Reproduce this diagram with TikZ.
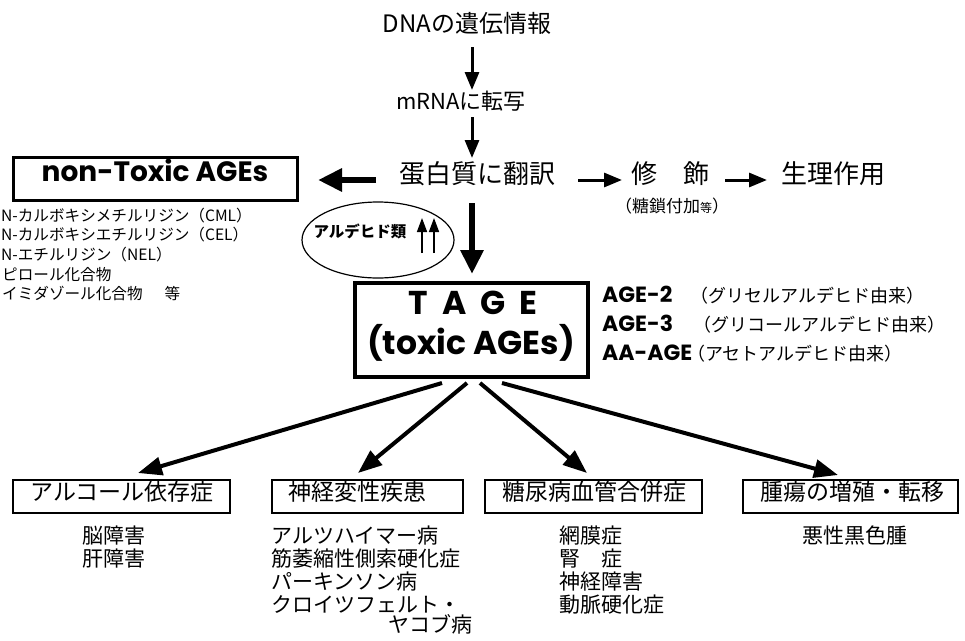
\documentclass[tikz,border=0pt]{standalone}
\usepackage{fontspec}
\setmainfont{Noto Sans CJK JP}
\newfontfamily\geo{Poppins}
\usetikzlibrary{arrows.meta,shapes.geometric}
\tikzset{
  fsz/.style={font=\fontsize{#1}{#1}\selectfont},
  txt/.style={inner sep=0pt, text height=0.88em, text depth=0.12em},
  lbox/.style={draw, line width=2.6pt, inner sep=0pt},
  arrA/.style={line width=3pt, -{Triangle[length=18pt,width=14pt]}},
  arrB/.style={line width=6pt, -{Triangle[length=24pt,width=22pt]}},
  arrC/.style={line width=4pt, -{Triangle[length=24pt,width=18pt]}},
  arrD/.style={line width=1.6pt, -{Triangle[length=14pt,width=10pt]}},
}
\begin{document}
\begin{tikzpicture}[x=1pt,y=-1pt]
\useasboundingbox (0,0) rectangle (965,640);

% top chain
\node[txt,fsz=24] (dna) at (467,29) {DNAの遺伝情報};
\node[txt,fsz=22] (mrna) at (461,106) {mRNAに転写};
\node[txt,fsz=26] (prot) at (477,180) {蛋白質に翻訳};
\node[txt,fsz=26,anchor=west] (mod) at (631,180) {修　飾};
\node[txt,fsz=17] (modsub) at (672,209) {（糖鎖付加{\fontsize{12}{12}\selectfont 等}）};
\node[txt,fsz=26,anchor=west] (phys) at (781,180) {生理作用};

\coordinate (a1s) at (472,47);  \coordinate (a1e) at (472,90);
\coordinate (a2s) at (472,117); \coordinate (a2e) at (472,158);
\draw[arrA] (a1s) -- (a1e);
\draw[arrA] (a2s) -- (a2e);

% non-toxic box
\node[lbox,line width=3pt,minimum width=284,minimum height=43] (nontox) at (155,178.5) {};
\node[txt,fsz=28] (nontoxt) at (155,178) {\geo\bfseries non-Toxic AGEs};
\coordinate (lfs) at (376,180); \coordinate (lfe) at (318,180);
\draw[arrB] (lfs) -- (lfe);
\coordinate (r1s) at (578,180); \coordinate (r1e) at (622,180);
\coordinate (r2s) at (725,180); \coordinate (r2e) at (767,180);
\draw[arrA] (r1s) -- (r1e);
\draw[arrA] (r2s) -- (r2e);

% list under non-toxic
\node[txt,fsz=15.6,anchor=west] (l1) at (1,218) {N-カルボキシメチルリジン（CML）};
\node[txt,fsz=15.6,anchor=west] (l2) at (1,237) {N-カルボキシエチルリジン（CEL）};
\node[txt,fsz=15.6,anchor=west] (l3) at (1,257) {N-エチルリジン（NEL）};
\node[txt,fsz=15.6,anchor=west] (l4) at (2,277) {ピロール化合物};
\node[txt,fsz=15.6,anchor=west] (l5) at (2,296) {イミダゾール化合物\hspace{22pt}等};

% ellipse
\node[draw,ellipse,line width=1.2pt,minimum width=152,minimum height=76,inner sep=0pt] (ell) at (378,240) {};
\node[txt,fsz=15.5] (ald) at (360,234) {\bfseries アルデヒド類};
\coordinate (u1s) at (422,253); \coordinate (u1e) at (422,218);
\coordinate (u2s) at (434,253); \coordinate (u2e) at (434,218);
\draw[arrD] (u1s) -- (u1e);
\draw[arrD] (u2s) -- (u2e);

% big down arrow
\coordinate (bds) at (472,203); \coordinate (bde) at (472,274);
\draw[arrB] (bds) -- (bde);

% TAGE box
\node[lbox,line width=4.5pt,minimum width=233,minimum height=94] (tage) at (471.5,330) {};
\node[txt,fsz=33] (tage1) at (473,311) {\geo\bfseries T\hspace{14pt}A\hspace{14pt}G\hspace{14pt}E};
\node[txt,fsz=33] (tage2) at (471,351) {\geo\bfseries (toxic AGEs)};

% AGE list
\node[txt,fsz=22,anchor=west] (g2) at (602,299) {\geo\bfseries AGE-2};
\node[txt,fsz=18,anchor=west] (g2j) at (690,299) {（グリセルアルデヒド由来）};
\node[txt,fsz=22,anchor=west] (g3) at (602,328) {\geo\bfseries AGE-3};
\node[txt,fsz=18,anchor=west] (g3j) at (693,328) {（グリコールアルデヒド由来）};
\node[txt,fsz=22,anchor=west] (g4) at (602,357) {\geo\bfseries AA-AGE};
\node[txt,fsz=18,anchor=west] (g4j) at (687,357) {（アセトアルデヒド由来）};

% TAGE arrows
\coordinate (t1s) at (442,383); \coordinate (t1e) at (138,473);
\coordinate (t2s) at (467,383); \coordinate (t2e) at (358,473);
\coordinate (t3s) at (480,383); \coordinate (t3e) at (587,473);
\coordinate (t4s) at (502,383); \coordinate (t4e) at (838,475);
\draw[arrC] (t1s) -- (t1e);
\draw[arrC] (t2s) -- (t2e);
\draw[arrC] (t3s) -- (t3e);
\draw[arrC] (t4s) -- (t4e);

% bottom boxes
\node[lbox,minimum width=217,minimum height=33] (b1) at (121.5,496.5) {};
\node[txt,fsz=23] (b1t) at (122,497) {アルコール依存症};
\node[lbox,minimum width=191,minimum height=33] (b2) at (367.5,496.5) {};
\node[txt,fsz=23] (b2t) at (357,497) {神経変性疾患};
\node[lbox,minimum width=217,minimum height=33] (b3) at (593.5,496.5) {};
\node[txt,fsz=23] (b3t) at (594,497) {糖尿病血管合併症};
\node[lbox,minimum width=215,minimum height=33] (b4) at (850.5,496.5) {};
\node[txt,fsz=23] (b4t) at (852,497) {腫瘍の増殖・転移};

% sub lists
\node[txt,fsz=21,anchor=west] (s11) at (82,540) {脳障害};
\node[txt,fsz=21,anchor=west] (s12) at (82,563) {肝障害};
\node[txt,fsz=21,anchor=west] (s21) at (271,540) {アルツハイマー病};
\node[txt,fsz=21,anchor=west] (s22) at (271,563) {筋萎縮性側索硬化症};
\node[txt,fsz=21,anchor=west] (s23) at (271,586) {パーキンソン病};
\node[txt,fsz=21,anchor=west] (s24) at (271,609) {クロイツフェルト・};
\node[txt,fsz=21,anchor=west] (s25) at (388,629) {ヤコブ病};
\node[txt,fsz=21,anchor=west] (s31) at (559,540) {網膜症};
\node[txt,fsz=21,anchor=west] (s32) at (559,563) {腎　症};
\node[txt,fsz=21,anchor=west] (s33) at (559,586) {神経障害};
\node[txt,fsz=21,anchor=west] (s34) at (559,609) {動脈硬化症};
\node[txt,fsz=21,anchor=west] (s41) at (802,540) {悪性黒色腫};
\end{tikzpicture}
\end{document}
